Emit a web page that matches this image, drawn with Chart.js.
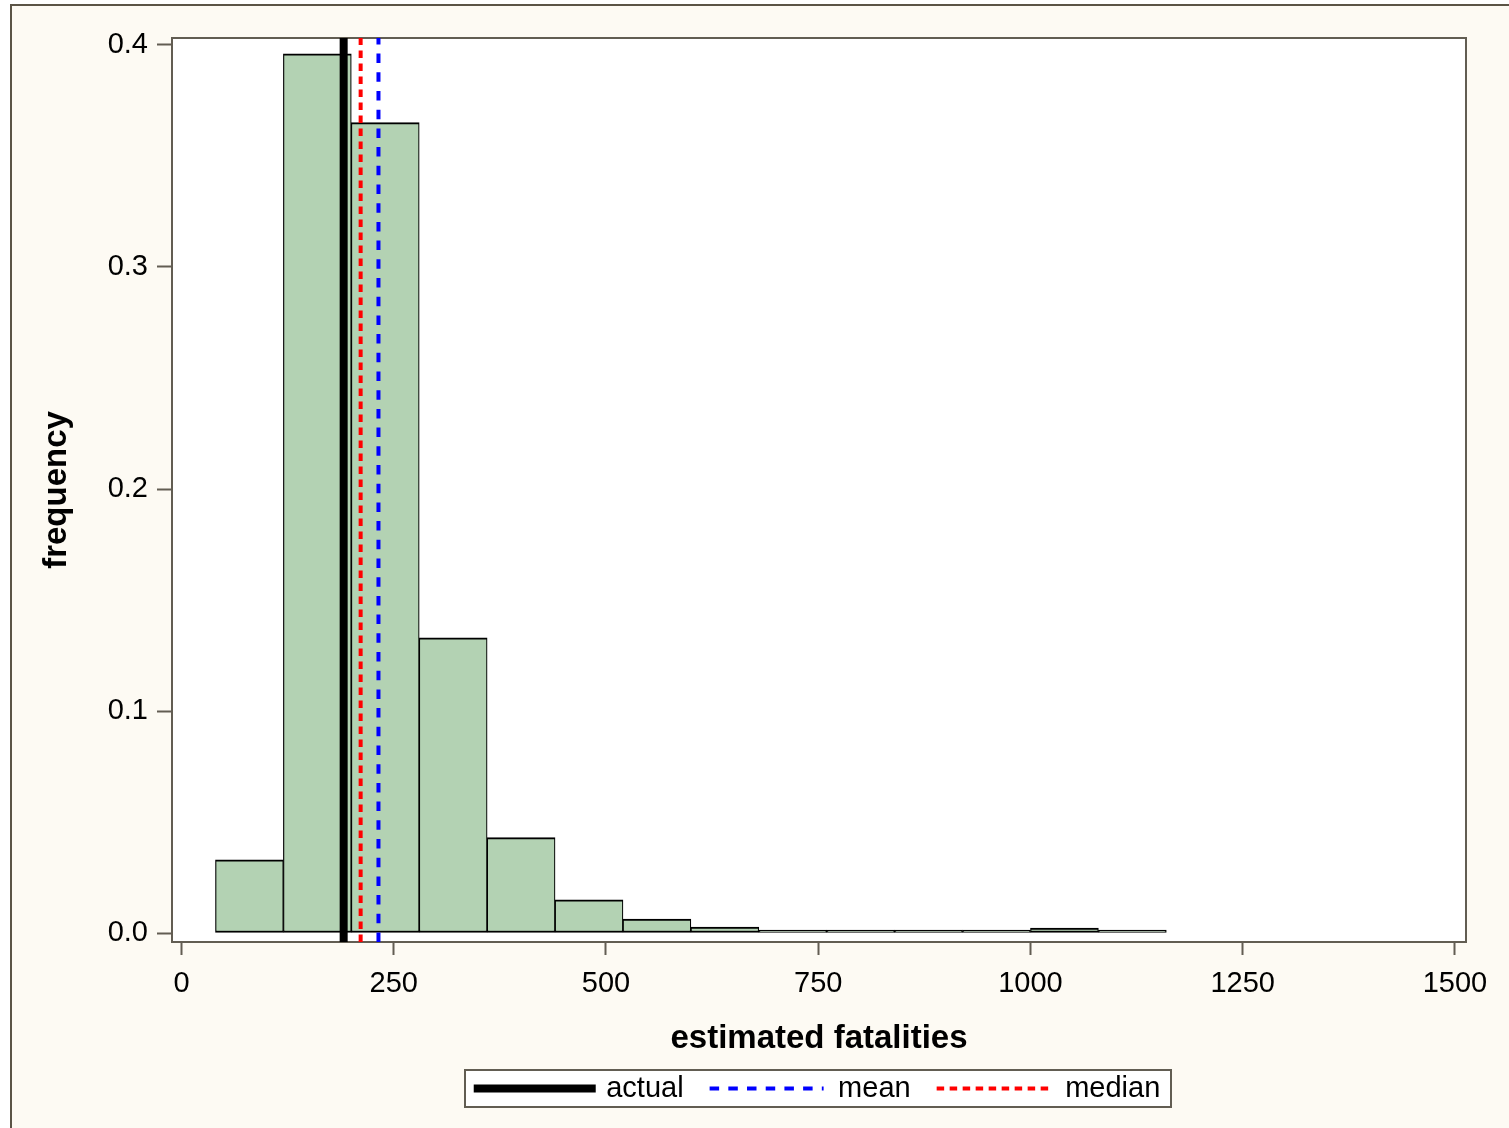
<!DOCTYPE html>
<html>
<head>
<meta charset="utf-8">
<script src="https://cdn.jsdelivr.net/npm/chart.js@4/dist/chart.umd.min.js"></script>
<style>
html, body { margin: 0; padding: 0; background: #ffffff; overflow: hidden; width: 1509px; height: 1128px; }
#frame { position: absolute; left: 10px; top: 4px; width: 1600px; height: 1200px; background: #fdfaf3;
         border-top: 2px solid #5b5446; border-left: 2px solid #5b5446; }
#wrap { position: absolute; left: 0; top: 0; width: 1509px; height: 1128px; }
</style>
</head>
<body>
<div id="frame"></div>
<div id="wrap"><canvas id="c" width="1509" height="1128"></canvas></div>
<script>
// ---- data ----
const binMidpoints = [80, 160, 240, 320, 400, 480, 560, 640, 720, 800, 880, 960, 1040, 1120];
const frequencies  = [0.033, 0.396, 0.365, 0.133, 0.043, 0.015, 0.0063, 0.0027, 0.0012, 0.0005, 0.0005, 0.0005, 0.0022, 0.0012];
const xTickValues = [0, 250, 500, 750, 1000, 1250, 1500];
const yTickValues = [0.0, 0.1, 0.2, 0.3, 0.4];
const seriesNames = ['actual', 'mean', 'median'];
const actualValue = 191;
const meanValue = 232;
const medianValue = 211;
const xTitle = 'estimated fatalities';
const yTitle = 'frequency';
const xAxisMin = -11.2, xAxisMax = 1513;
const yAxisMin = -0.00405, yAxisMax = 0.40315;

// ---- styles ----
const FONT = "'Liberation Sans', Arial, Helvetica, sans-serif";
const frameColor = '#625d52';
const barFill = '#b3d2b3';
const legendFontSize = 29;
const legendPad = 26;

Chart.defaults.color = '#000';
Chart.defaults.font.family = FONT;

const histogram = binMidpoints.map((m, i) => ({ x: m, y: frequencies[i] }));
const vline = v => [{ x: v, y: yAxisMin }, { x: v, y: yAxisMax }];

const decor = {
  id: 'decor',
  beforeDraw(chart) {
    const { ctx, chartArea: a } = chart;
    ctx.save();
    ctx.fillStyle = '#ffffff';
    ctx.fillRect(a.left, a.top, a.right - a.left, a.bottom - a.top);
    const lg = chart.legend;
    if (lg && lg.lineWidths) {
      const startX = (lg.left + legendPad + lg.right - lg.lineWidths[0]) / 2;
      const endX = startX + lg.lineWidths[0] - legendPad;
      const cy = lg.top + legendPad + legendFontSize / 2;
      const x0 = Math.round(startX - 13), x1 = Math.round(endX + 11);
      const y0 = Math.round(cy - 18.5);
      ctx.fillRect(x0, y0, x1 - x0, 37);
      ctx.strokeStyle = frameColor;
      ctx.lineWidth = 2;
      ctx.strokeRect(x0, y0, x1 - x0, 37);
    }
    ctx.restore();
  },
  beforeDatasetsDraw(chart) {
    const { ctx, chartArea: a } = chart;
    ctx.save();
    ctx.strokeStyle = frameColor;
    ctx.lineWidth = 2;
    ctx.strokeRect(a.left, a.top, a.right - a.left, a.bottom - a.top);
    ctx.restore();
  }
};

const lineStyles = [
  { label: seriesNames[0], value: actualValue, color: '#000000', width: 8, dash: [], cap: 'square', order: 1 },
  { label: seriesNames[1], value: meanValue,   color: '#0000ff', width: 4, dash: [9.5, 9.2], cap: 'butt', order: 2 },
  { label: seriesNames[2], value: medianValue, color: '#ff0000', width: 4, dash: [7.5, 5.5], cap: 'butt', order: 3 }
];

const datasets = [
  {
    type: 'bar',
    label: 'histogram',
    data: histogram,
    backgroundColor: barFill,
    borderColor: '#000',
    borderWidth: { top: 2, bottom: 2, left: 1.2, right: 1.2 },
    borderSkipped: false,
    barPercentage: 1,
    categoryPercentage: 1,
    minBarLength: 3,
    order: 10
  },
  ...lineStyles.map(s => ({
    type: 'line',
    label: s.label,
    data: vline(s.value),
    borderColor: s.color,
    backgroundColor: s.color,
    borderWidth: s.width,
    borderDash: s.dash,
    borderCapStyle: s.cap,
    pointRadius: 0,
    pointHoverRadius: 0,
    pointStyle: 'line',
    fill: false,
    order: s.order
  }))
];

new Chart(document.getElementById('c'), {
  type: 'bar',
  data: { datasets },
  options: {
    responsive: false,
    animation: false,
    events: [],
    layout: { padding: { left: 0, top: 38, right: 43, bottom: 15 } },
    scales: {
      x: {
        type: 'linear',
        offset: false,
        min: xAxisMin,
        max: xAxisMax,
        afterBuildTicks: s => { s.ticks = xTickValues.map(v => ({ value: v })); },
        afterFit: s => { s.height = 106; s.paddingLeft = 0; s.paddingRight = 0; },
        border: { display: false },
        grid: { display: true, offset: false, drawOnChartArea: false, drawTicks: true, tickLength: 13, tickWidth: 2, tickColor: frameColor },
        ticks: { autoSkip: false, maxRotation: 0, padding: 11.5, color: '#000',
                 font: { size: 29, family: FONT }, callback: v => String(v) },
        title: { display: true, text: xTitle, color: '#000',
                 font: { size: 33, weight: 'bold', family: FONT, lineHeight: 1 },
                 padding: { top: 0, bottom: -7.5 } }
      },
      y: {
        type: 'linear',
        min: yAxisMin,
        max: yAxisMax,
        afterBuildTicks: s => { s.ticks = yTickValues.map(v => ({ value: v })); },
        afterFit: s => { s.width = 172; s.paddingTop = 0; s.paddingBottom = 0; },
        border: { display: false },
        grid: { display: true, drawOnChartArea: false, drawTicks: true, tickLength: 15, tickWidth: 2, tickColor: frameColor },
        ticks: { padding: 9, color: '#000', font: { size: 29, family: FONT }, callback: v => Number(v).toFixed(1) },
        title: { display: true, text: yTitle, color: '#000',
                 font: { size: 33, weight: 'bold', family: FONT, lineHeight: 1 },
                 padding: { top: 40.5, bottom: 0 } }
      }
    },
    plugins: {
      tooltip: { enabled: false },
      legend: {
        display: true,
        position: 'bottom',
        fullSize: false,
        labels: {
          usePointStyle: true,
          pointStyle: 'line',
          pointStyleWidth: 114,
          padding: legendPad,
          color: '#000',
          font: { size: legendFontSize, family: FONT },
          filter: item => item.datasetIndex > 0,
          generateLabels(chart) {
            const items = Chart.defaults.plugins.legend.labels.generateLabels(chart);
            items.forEach(it => {
              const ds = chart.data.datasets[it.datasetIndex];
              it.lineDash = ds.borderDash || [];
              it.lineWidth = ds.borderWidth;
              it.strokeStyle = ds.borderColor;
              it.lineCap = ds.borderCapStyle || 'butt';
            });
            return items;
          }
        }
      }
    }
  },
  plugins: [decor]
});
</script>
</body>
</html>
